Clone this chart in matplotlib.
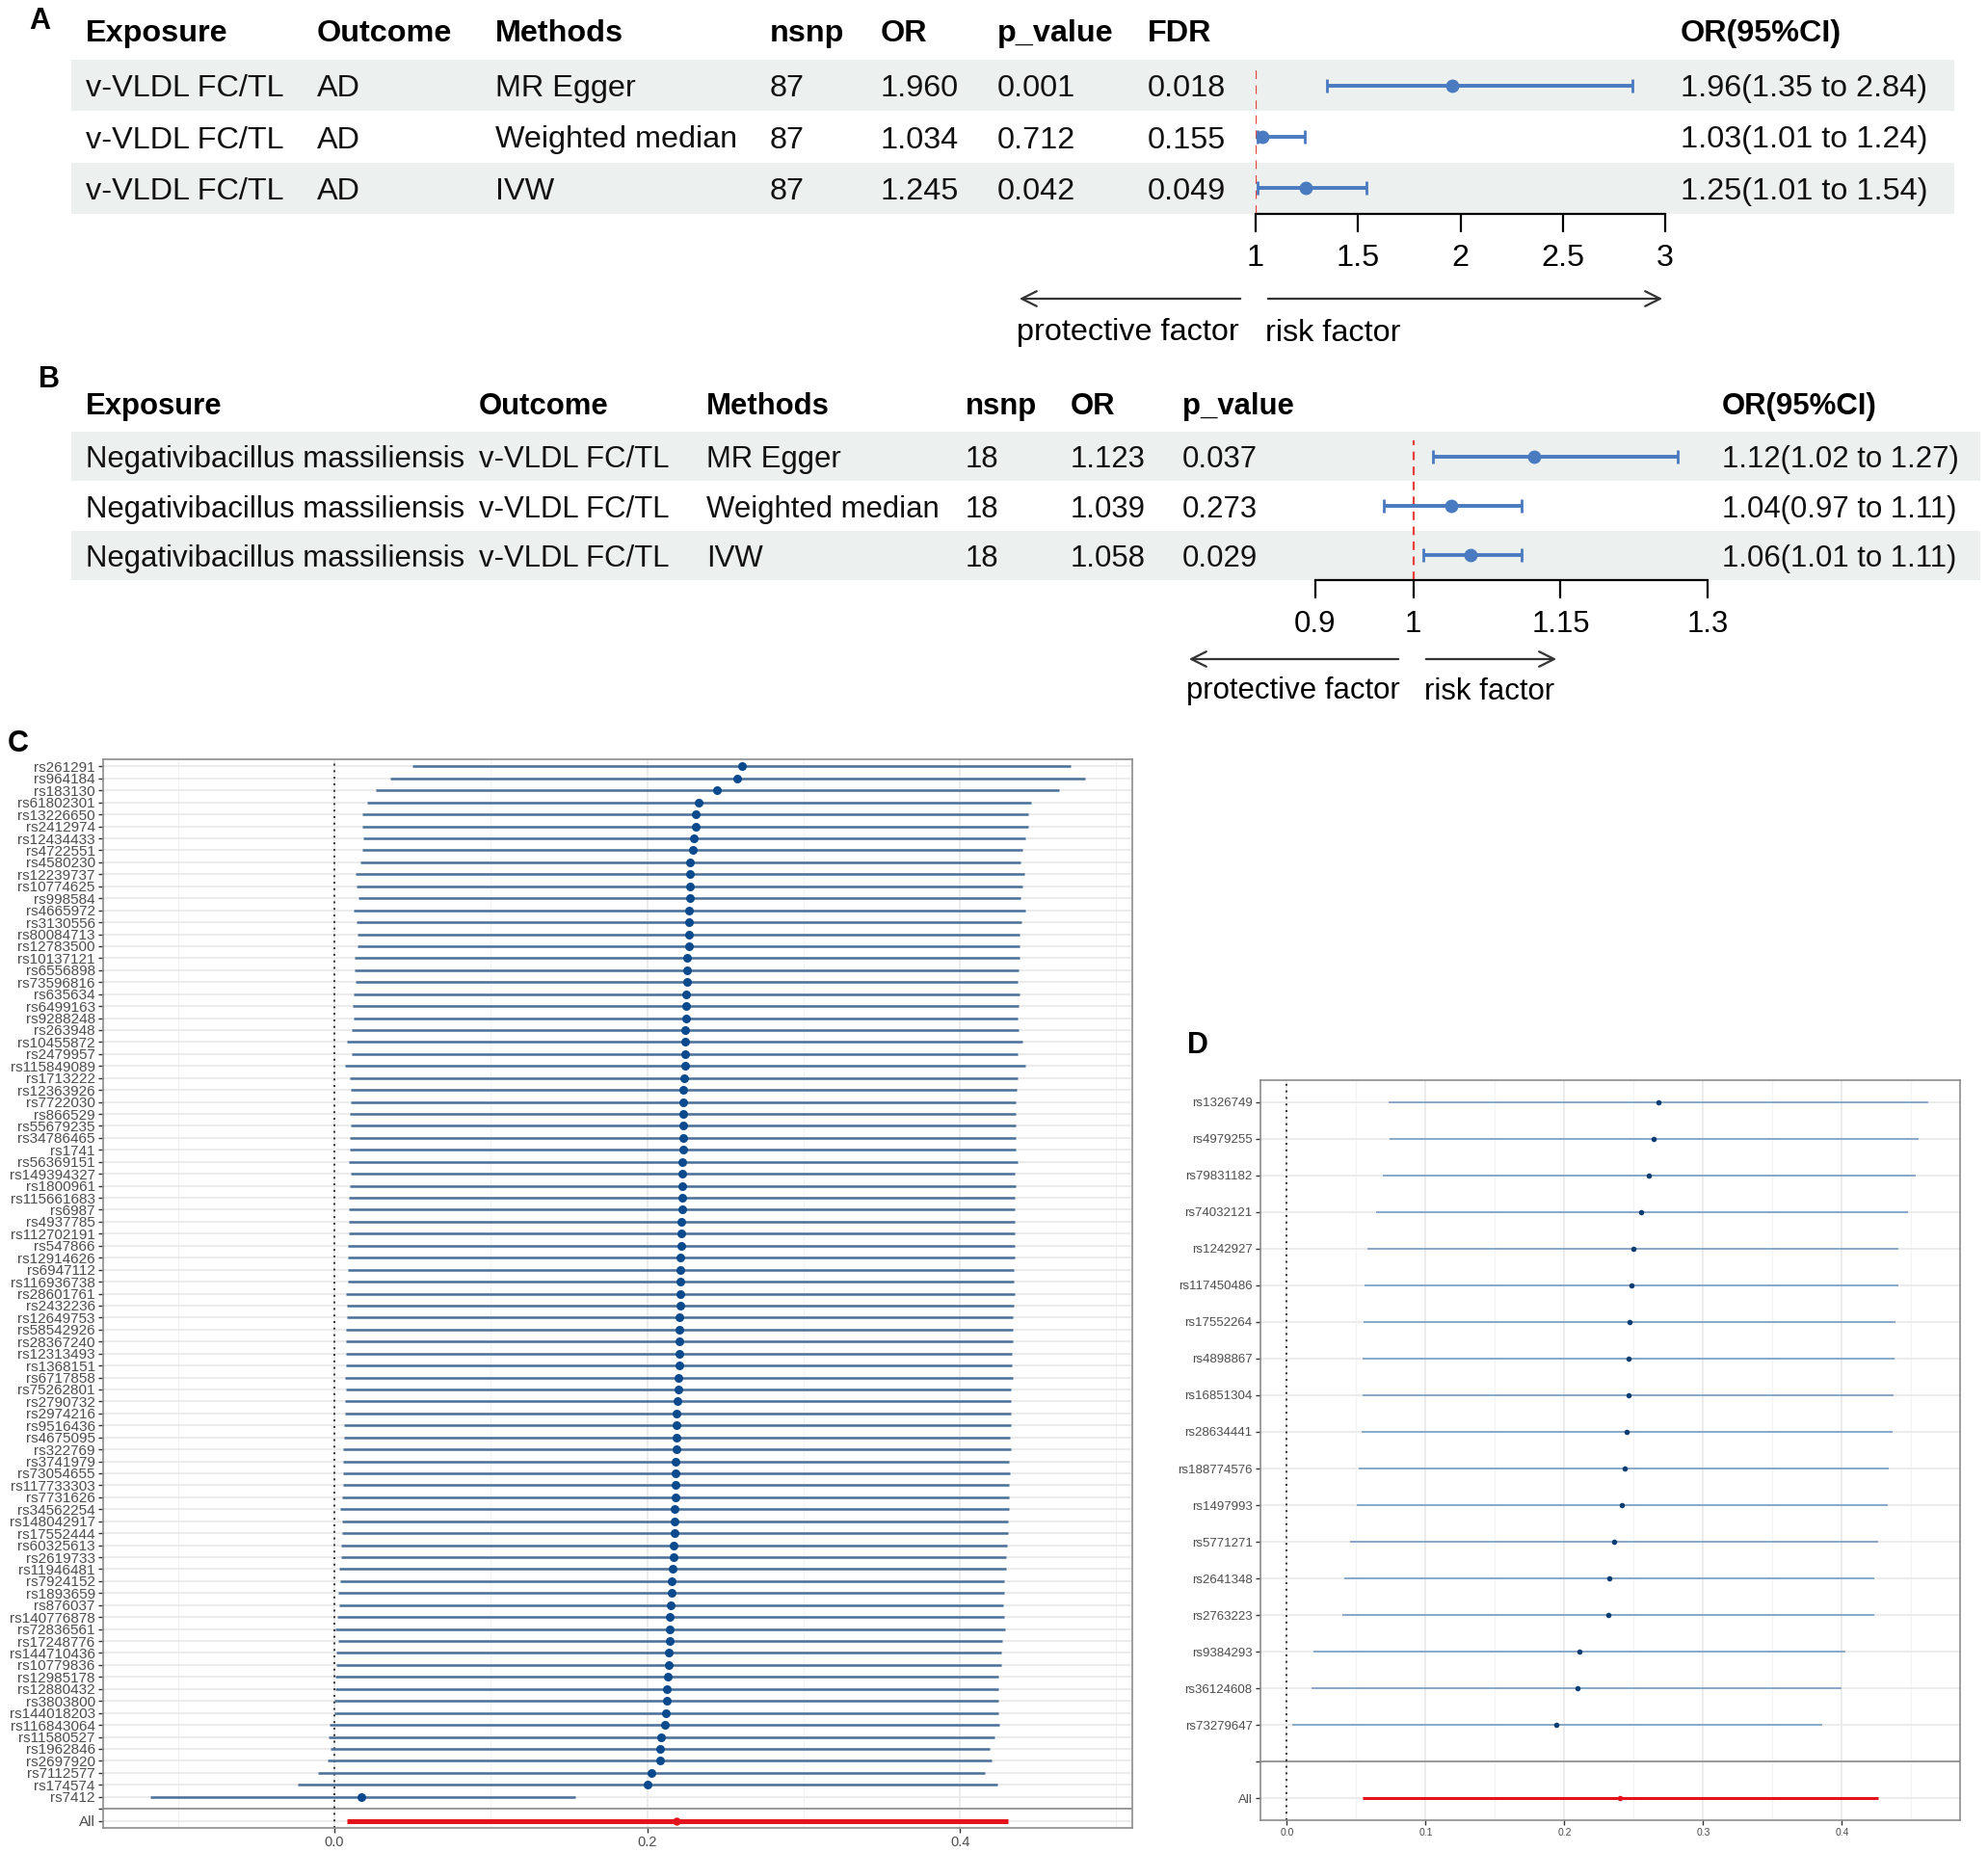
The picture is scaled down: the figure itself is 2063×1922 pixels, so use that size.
import numpy as np
import matplotlib
matplotlib.use("Agg")
import matplotlib.pyplot as plt
from matplotlib.ticker import FormatStrFormatter

plt.rcParams["font.family"] = ["Liberation Sans", "DejaVu Sans"]

# ---------------- data: panel A ----------------
a_exposure = ["v-VLDL FC/TL", "v-VLDL FC/TL", "v-VLDL FC/TL"]
a_outcome = ["AD", "AD", "AD"]
a_methods = ["MR Egger", "Weighted median", "IVW"]
a_nsnp = [87, 87, 87]
a_or = [1.960, 1.034, 1.245]
a_p = [0.001, 0.712, 0.042]
a_fdr = [0.018, 0.155, 0.049]
a_lo = [1.35, 1.01, 1.01]
a_hi = [2.84, 1.24, 1.54]
a_ticks = [1, 1.5, 2, 2.5, 3]

# ---------------- data: panel B ----------------
b_exposure = ["Negativibacillus massiliensis"] * 3
b_outcome = ["v-VLDL FC/TL"] * 3
b_methods = ["MR Egger", "Weighted median", "IVW"]
b_nsnp = [18, 18, 18]
b_or = [1.123, 1.039, 1.058]
b_p = [0.037, 0.273, 0.029]
b_lo = [1.02, 0.97, 1.01]
b_hi = [1.27, 1.11, 1.11]
b_ticks = [0.9, 1, 1.15, 1.3]

# ---------------- data: panel C (single SNP, v-VLDL FC/TL -> AD) ----------------
c_snp = ["rs261291", "rs964184", "rs183130", "rs61802301", "rs13226650", "rs2412974",
         "rs12434433", "rs4722551", "rs4580230", "rs12239737", "rs10774625", "rs998584",
         "rs4665972", "rs3130556", "rs80084713", "rs12783500", "rs10137121", "rs6556898",
         "rs73596816", "rs635634", "rs6499163", "rs9288248", "rs263948", "rs10455872",
         "rs2479957", "rs115849089", "rs1713222", "rs12363926", "rs7722030", "rs866529",
         "rs55679235", "rs34786465", "rs1741", "rs56369151", "rs149394327", "rs1800961",
         "rs115661683", "rs6987", "rs4937785", "rs112702191", "rs547866", "rs12914626",
         "rs6947112", "rs116936738", "rs28601761", "rs2432236", "rs12649753", "rs58542926",
         "rs28367240", "rs12313493", "rs1368151", "rs6717858", "rs75262801", "rs2790732",
         "rs2974216", "rs9516436", "rs4675095", "rs322769", "rs3741979", "rs73054655",
         "rs117733303", "rs7731626", "rs34562254", "rs148042917", "rs17552444", "rs60325613",
         "rs2619733", "rs11946481", "rs7924152", "rs1893659", "rs876037", "rs140776878",
         "rs72836561", "rs17248776", "rs144710436", "rs10779836", "rs12985178", "rs12880432",
         "rs3803800", "rs144018203", "rs116843064", "rs11580527", "rs1962846", "rs2697920",
         "rs7112577", "rs174574", "rs7412"]
c_b = [0.2606, 0.2577, 0.2444, 0.2330, 0.2308, 0.2308, 0.2301, 0.2290, 0.2276, 0.2272,
       0.2272, 0.2272, 0.2269, 0.2265, 0.2265, 0.2265, 0.2258, 0.2254, 0.2254, 0.2251,
       0.2247, 0.2247, 0.2244, 0.2244, 0.2244, 0.2240, 0.2237, 0.2233, 0.2233, 0.2233,
       0.2229, 0.2229, 0.2229, 0.2226, 0.2226, 0.2226, 0.2222, 0.2222, 0.2219, 0.2219,
       0.2219, 0.2215, 0.2215, 0.2215, 0.2211, 0.2211, 0.2208, 0.2208, 0.2204, 0.2204,
       0.2204, 0.2201, 0.2197, 0.2194, 0.2190, 0.2190, 0.2186, 0.2186, 0.2183, 0.2183,
       0.2183, 0.2179, 0.2172, 0.2172, 0.2172, 0.2168, 0.2168, 0.2161, 0.2158, 0.2154,
       0.2151, 0.2147, 0.2147, 0.2143, 0.2140, 0.2136, 0.2129, 0.2125, 0.2125, 0.2122,
       0.2115, 0.2090, 0.2082, 0.2082, 0.2029, 0.2000, 0.0172]
c_lo = [0.0502, 0.0355, 0.0262, 0.0208, 0.0179, 0.0179, 0.0183, 0.0179, 0.0165, 0.0136,
        0.0140, 0.0154, 0.0122, 0.0140, 0.0147, 0.0147, 0.0129, 0.0129, 0.0136, 0.0122,
        0.0115, 0.0122, 0.0111, 0.0079, 0.0111, 0.0065, 0.0100, 0.0104, 0.0104, 0.0100,
        0.0104, 0.0100, 0.0100, 0.0093, 0.0104, 0.0097, 0.0093, 0.0093, 0.0090, 0.0090,
        0.0086, 0.0086, 0.0086, 0.0086, 0.0072, 0.0079, 0.0079, 0.0072, 0.0072, 0.0075,
        0.0075, 0.0068, 0.0072, 0.0068, 0.0065, 0.0061, 0.0061, 0.0057, 0.0057, 0.0054,
        0.0054, 0.0047, 0.0039, 0.0047, 0.0047, 0.0043, 0.0043, 0.0029, 0.0036, 0.0025,
        0.0029, 0.0018, 0.0004, 0.0022, 0.0014, 0.0011, 0.0007, 0.0004, 0.0000, 0.0000,
        -0.0032, -0.0036, -0.0022, -0.0043, -0.0104, -0.0233, -0.1180]
c_hi = [0.4710, 0.4803, 0.4631, 0.4455, 0.4437, 0.4434, 0.4419, 0.4401, 0.4387, 0.4409,
        0.4401, 0.4387, 0.4416, 0.4391, 0.4384, 0.4380, 0.4380, 0.4376, 0.4369, 0.4380,
        0.4376, 0.4369, 0.4376, 0.4401, 0.4369, 0.4416, 0.4366, 0.4362, 0.4358, 0.4358,
        0.4355, 0.4358, 0.4358, 0.4366, 0.4351, 0.4355, 0.4351, 0.4351, 0.4351, 0.4348,
        0.4348, 0.4348, 0.4344, 0.4344, 0.4351, 0.4344, 0.4337, 0.4341, 0.4341, 0.4333,
        0.4333, 0.4337, 0.4326, 0.4326, 0.4326, 0.4323, 0.4319, 0.4323, 0.4315, 0.4319,
        0.4315, 0.4315, 0.4312, 0.4305, 0.4305, 0.4301, 0.4297, 0.4294, 0.4280, 0.4283,
        0.4276, 0.4280, 0.4290, 0.4272, 0.4265, 0.4262, 0.4247, 0.4247, 0.4244, 0.4244,
        0.4254, 0.4219, 0.4190, 0.4204, 0.4161, 0.4237, 0.1538]
c_all = [0.2190, 0.0082, 0.4305]  # estimate, lower, upper
c_ticks = [0.0, 0.2, 0.4]
c_minor = [-0.1, 0.1, 0.3, 0.5]

# ---------------- data: panel D (single SNP, bacterium -> v-VLDL FC/TL) ----------------
d_snp = ["rs1326749", "rs4979255", "rs79831182", "rs74032121", "rs1242927", "rs117450486",
         "rs17552264", "rs4898867", "rs16851304", "rs28634441", "rs188774576", "rs1497993",
         "rs5771271", "rs2641348", "rs2763223", "rs9384293", "rs36124608", "rs73279647"]
d_b = [0.2676, 0.2645, 0.2606, 0.2556, 0.2498, 0.2483, 0.2467, 0.2459, 0.2459, 0.2448,
       0.2432, 0.2413, 0.2359, 0.2324, 0.2317, 0.2108, 0.2093, 0.1942]
d_lo = [0.0734, 0.0737, 0.0691, 0.0641, 0.0583, 0.0560, 0.0552, 0.0544, 0.0548, 0.0537,
        0.0521, 0.0502, 0.0459, 0.0417, 0.0398, 0.0189, 0.0181, 0.0039]
d_hi = [0.4622, 0.4552, 0.4529, 0.4475, 0.4409, 0.4409, 0.4386, 0.4378, 0.4375, 0.4367,
        0.4340, 0.4332, 0.4263, 0.4236, 0.4232, 0.4027, 0.4000, 0.3857]
d_all = [0.2402, 0.0544, 0.4263]
d_ticks = [0.0, 0.1, 0.2, 0.3, 0.4]
d_minor = [0.05, 0.15, 0.25, 0.35, 0.45]

W, H = 2063, 1922
BAND = "#ecf0ef"
BLUE = "#4a7abf"
RED = "#e8413c"

fig = plt.figure(figsize=(W / 100, H / 100), dpi=100)


def px_box(l, t, r, b):
    return [l / W, 1 - b / H, (r - l) / W, (b - t) / H]


def fmt2(x):
    return f"{round(x + 1e-9, 2):.2f}"


def table(box, headers, col_x, cols, size):
    l, t, r, b = box
    n = len(cols[0])
    ax = fig.add_axes(px_box(l, t, r, b))
    ax.set_xlim(l, r)
    ax.set_ylim(n - 0.5, -0.5)
    ax.axis("off")
    for i in range(0, n, 2):
        ax.axhspan(i - 0.5, i + 0.5, color=BAND, lw=0)
    for h, x in zip(headers, col_x):
        ax.text(x, -1, h, fontsize=size, fontweight="bold", va="center", clip_on=False)
    for col, x in zip(cols, col_x):
        for i, v in enumerate(col):
            ax.text(x, i, v, fontsize=size, va="center_baseline", color="#111111")
    return ax


def forest(box, xlim, ticks, est, lo, hi, size, vtop):
    l, t, r, b = box
    n = len(est)
    ax = fig.add_axes(px_box(l, t, r, b))
    ax.patch.set_alpha(0)
    y = np.arange(n)
    est, lo, hi = np.array(est), np.array(lo), np.array(hi)
    ax.axvline(1, ymin=0, ymax=vtop, color=RED, ls=(0, (4, 3)), lw=1.6, zorder=1)
    ax.errorbar(est, y, xerr=[est - lo, hi - est], fmt="o", color=BLUE, ms=9,
                elinewidth=2.8, capsize=5, capthick=2, zorder=3, clip_on=False)
    ax.set_xlim(xlim)
    ax.set_ylim(n - 0.5, -0.5)
    for s in ["left", "right", "top"]:
        ax.spines[s].set_visible(False)
    ax.spines["bottom"].set_linewidth(1.6)
    ax.set_yticks([])
    ax.set_xticks(ticks)
    ax.set_xticklabels([f"{v:g}" for v in ticks])
    ax.tick_params(axis="x", length=14, width=1.6, pad=8, labelsize=size)
    return ax


# overlay for letters and arrows
ov = fig.add_axes([0, 0, 1, 1])
ov.set_xlim(0, W)
ov.set_ylim(H, 0)
ov.axis("off")
ov.set_zorder(5)
ov.patch.set_alpha(0)

for letter, (x, y) in zip("ABCD", [(30, 22), (40, 394), (8, 772), (1232, 1085)]):
    ov.text(x, y, letter, fontsize=22, fontweight="bold", va="center")

# ---------------- panel A ----------------
a_cols = [a_exposure, a_outcome, a_methods, [str(v) for v in a_nsnp],
          [f"{v:.3f}" for v in a_or], [f"{v:.3f}" for v in a_p], [f"{v:.3f}" for v in a_fdr],
          [f"{fmt2(o)}({fmt2(l)} to {fmt2(h)})" for o, l, h in zip(a_or, a_lo, a_hi)]]
table((74, 62, 2028, 222),
      ["Exposure", "Outcome", "Methods", "nsnp", "OR", "p_value", "FDR", "OR(95%CI)"],
      [89, 329, 514, 799, 914, 1035, 1191, 1744], a_cols, 23.3)
forest((1303, 62, 1728, 222), (1, 3), a_ticks, a_or, a_lo, a_hi, 23.3, 0.96)

# ---------------- panel B ----------------
b_cols = [b_exposure, b_outcome, b_methods, [str(v) for v in b_nsnp],
          [f"{v:.3f}" for v in b_or], [f"{v:.3f}" for v in b_p],
          [f"{fmt2(o)}({fmt2(l)} to {fmt2(h)})" for o, l, h in zip(b_or, b_lo, b_hi)]]
table((74, 448, 2055, 602),
      ["Exposure", "Outcome", "Methods", "nsnp", "OR", "p_value", "OR(95%CI)"],
      [89, 497, 733, 1002, 1111, 1227, 1787], b_cols, 22.4)
forest((1365, 448, 1772, 602), (0.9, 1.3), b_ticks, b_or, b_lo, b_hi, 22.4, 0.94)

# direction arrows
arrow = dict(arrowstyle="->", lw=1.6, color="#333333", mutation_scale=28)
for (x0, x1), y in [((1290, 1055), 310), ((1313, 1728), 310),
                    ((1454, 1231), 684), ((1477, 1618), 684)]:
    ov.annotate("", xy=(x1, y), xytext=(x0, y), arrowprops=arrow)
ov.text(1055, 342, "protective factor", fontsize=23.3, va="center_baseline")
ov.text(1313, 342, "risk factor", fontsize=23.3, va="center_baseline")
ov.text(1231, 714, "protective factor", fontsize=22.4, va="center_baseline")
ov.text(1478, 714, "risk factor", fontsize=22.4, va="center_baseline")


# ---------------- panels C and D ----------------
def snp_forest(box, labels, est, lo, hi, tot, ticks, minor, ylab, xlab,
               line_c, pt_c, lw, ms, all_lw, all_ms):
    n = len(labels)
    ax = fig.add_axes(px_box(*box))
    y = np.arange(n, 0, -1) + 2
    ax.set_axisbelow(True)
    ax.hlines(y, lo, hi, color=line_c, lw=lw, zorder=2)
    ax.plot(est, y, "o", color=pt_c, ms=ms, mec="none", zorder=3)
    ax.hlines(1, tot[1], tot[2], color="#e3121b", lw=all_lw, zorder=2)
    ax.plot(tot[0], 1, "o", color="#e3121b", ms=all_ms, mec="none", zorder=3)
    ax.axhline(2, color="#8a8a8a", lw=1.2, zorder=1)
    ax.axvline(0, color="#333333", ls=(0, (1, 2.5)), lw=1.4, zorder=1)
    lo_all = min(min(lo), tot[1])
    hi_all = max(max(hi), tot[2])
    pad = 0.05 * (hi_all - lo_all)
    ax.set_xlim(lo_all - pad, hi_all + pad)
    ax.set_ylim(0.4, n + 2.6)
    ax.set_yticks(list(y) + [2, 1])
    ax.set_yticklabels(labels + ["", "All"])
    ax.set_xticks(ticks)
    ax.set_xticks(minor, minor=True)
    ax.xaxis.set_major_formatter(FormatStrFormatter("%.1f"))
    ax.grid(True, which="major", color="#ebebeb", lw=1.3)
    ax.grid(True, which="minor", axis="x", color="#f3f3f3", lw=0.9)
    for s in ax.spines.values():
        s.set_color("#8c8c8c")
        s.set_linewidth(1.2)
    ax.tick_params(axis="y", length=3.5, width=1, color="#333333", pad=2.5,
                   labelsize=ylab, labelcolor="#4d4d4d")
    ax.tick_params(axis="x", which="major", length=3.5, width=1, color="#333333", pad=2.5,
                   labelsize=xlab, labelcolor="#4d4d4d")
    ax.tick_params(axis="x", which="minor", length=0)
    return ax


snp_forest((107, 788, 1175, 1897), c_snp, c_b, c_lo, c_hi, c_all, c_ticks, c_minor,
           11, 10.5, "#4a7099", "#0b4a8c", 1.8, 6.5, 3.6, 6.0)
snp_forest((1308, 1121, 2034, 1889), d_snp, d_b, d_lo, d_hi, d_all, d_ticks, d_minor,
           9.5, 7.5, "#6f97bd", "#0b3d73", 1.1, 4.0, 2.2, 4.0)

fig.savefig("out.png", dpi=100, facecolor="white")
